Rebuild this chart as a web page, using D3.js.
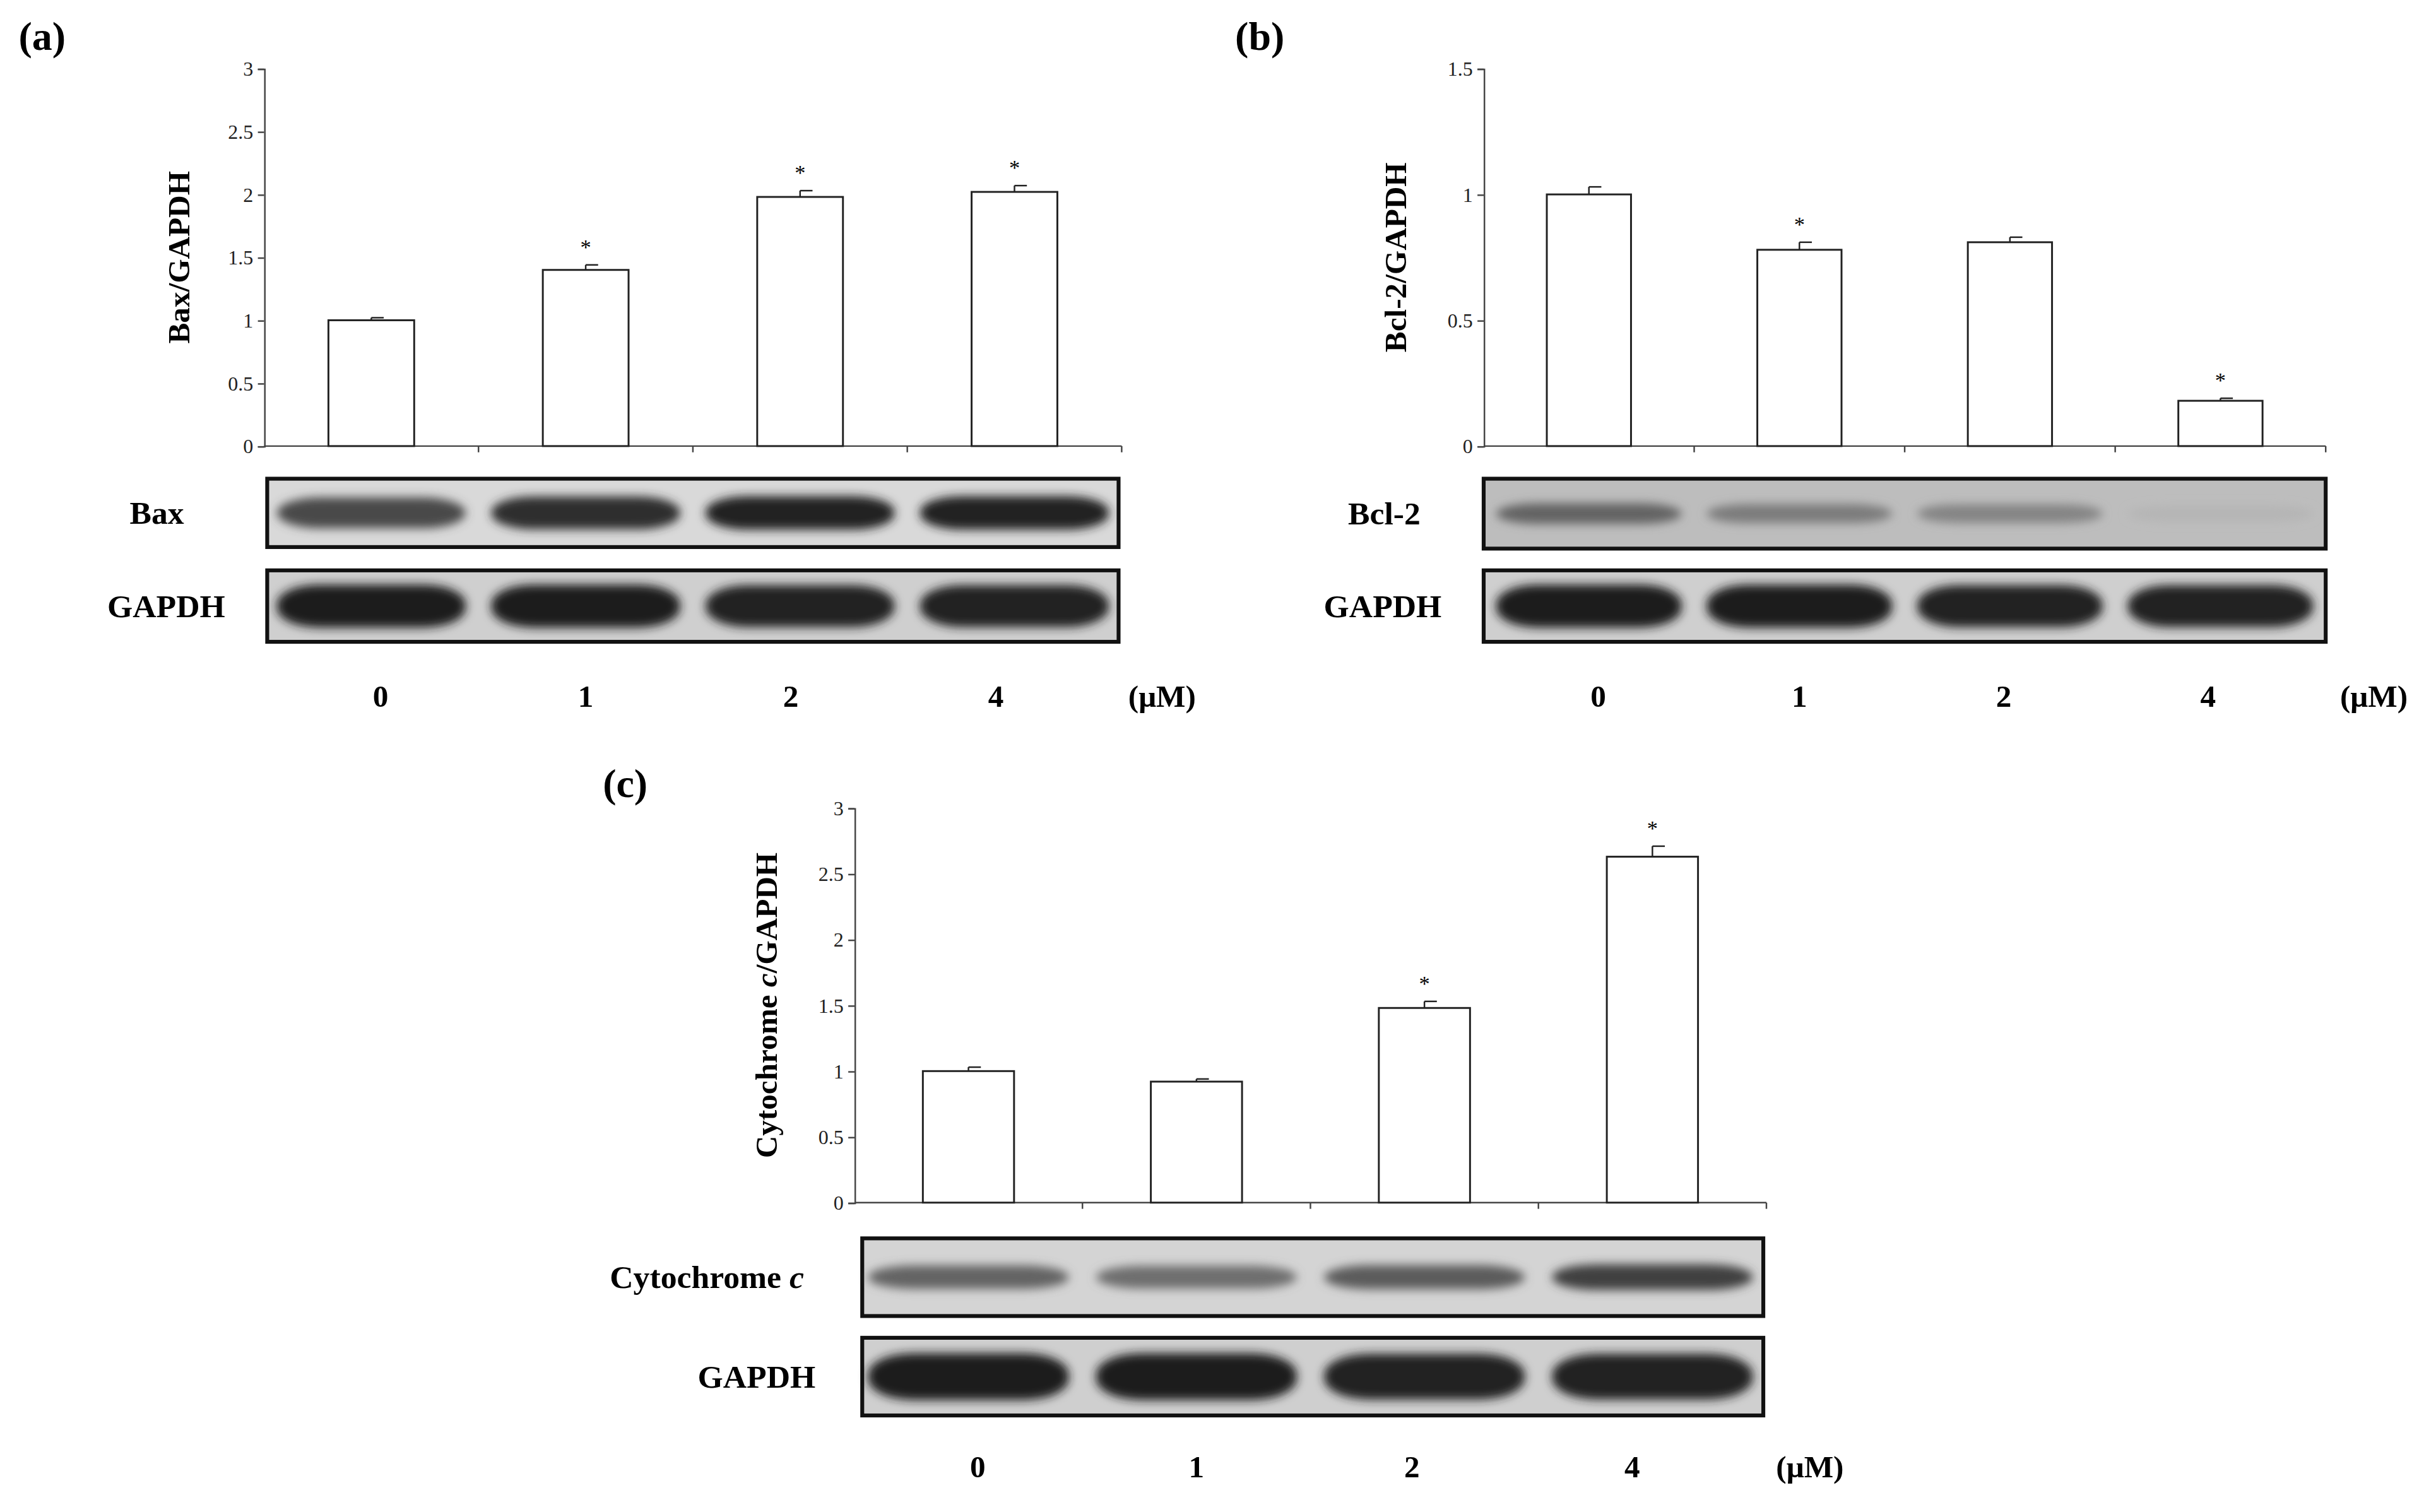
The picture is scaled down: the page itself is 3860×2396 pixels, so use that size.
<!DOCTYPE html>
<html><head><meta charset="utf-8">
<script src="https://cdn.jsdelivr.net/npm/d3@7"></script>
<style>body{margin:0;background:#fff}</style></head>
<body><svg id="c" width="3860" height="2396" viewBox="0 0 1568 973"></svg>
<script>
const doses = ["0","1","2","4"];
const baxVals = [1.0, 1.4, 1.98, 2.02];
const baxErr = [0.02, 0.04, 0.05, 0.05];
const baxSig = [false, true, true, true];
const bclVals = [1.0, 0.78, 0.81, 0.18];
const bclErr = [0.03, 0.03, 0.02, 0.01];
const bclSig = [false, true, false, true];
const cytVals = [1.0, 0.92, 1.48, 2.63];
const cytErr = [0.03, 0.02, 0.05, 0.08];
const cytSig = [false, false, true, true];
const baxTicks = [0, 0.5, 1, 1.5, 2, 2.5, 3];
const bclTicks = [0, 0.5, 1, 1.5];
const cytTicks = [0, 0.5, 1, 1.5, 2, 2.5, 3];
// band intensities (0-1)
const baxBand = [0.75, 0.9, 0.95, 0.95];
const bclBand = [0.55, 0.4, 0.35, 0.05];
const cytBand = [0.6, 0.55, 0.65, 0.8];
const gapA = [1, 1, 0.95, 0.95];
const gapB = [1, 1, 0.95, 0.95];
const gapC = [1, 1, 0.95, 0.95];

const svg = d3.select("#c");
const defs = svg.append("defs");
defs.append("filter").attr("id","bl").attr("x","-30%").attr("y","-100%").attr("width","160%").attr("height","300%")
  .append("feGaussianBlur").attr("stdDeviation","3");
const font = "Liberation Serif, Times New Roman, serif";

function panel(o){
  const g = svg.append("g");
  const y = d3.scaleLinear().domain([0,o.max]).range([o.y0,o.y1]);
  const x = d3.scaleBand().domain(doses).range([o.ax, o.ax2]).paddingInner(0.6).paddingOuter(0.3);
  const ya = g.append("g").attr("transform",`translate(${o.ax},0)`)
    .call(d3.axisLeft(y).tickValues(o.ticks).tickSize(4).tickFormat(d=>d));
  ya.selectAll("text").attr("font-family",font).attr("font-size",13).attr("fill","#222");
  ya.select(".domain").attr("stroke","#444");
  ya.selectAll(".tick line").attr("stroke","#444");
  g.append("line").attr("x1",o.ax).attr("x2",o.ax2).attr("y1",o.y0).attr("y2",o.y0).attr("stroke","#444");
  const step = x.step();
  doses.forEach((d,i)=>{ const tx = x(d)+x.bandwidth()/2+step/2;
    g.append("line").attr("x1",tx).attr("x2",tx).attr("y1",o.y0).attr("y2",o.y0+4).attr("stroke","#444");});
  g.append("text").attr("transform",`translate(${o.ax-o.labOff},${(o.y0+o.y1)/2}) rotate(-90)`)
    .attr("text-anchor","middle").attr("font-family",font).attr("font-weight","bold").attr("font-size",20).html(o.ylab);
  o.vals.forEach((v,i)=>{
    const cx = x(doses[i]);
    g.append("rect").attr("x",cx).attr("width",x.bandwidth()).attr("y",y(v)).attr("height",o.y0-y(v))
      .attr("fill","#fff").attr("stroke","#222").attr("stroke-width",1.2);
    const mx = cx + x.bandwidth()/2, top=y(v+o.err[i]);
    g.append("line").attr("x1",mx).attr("x2",mx).attr("y1",y(v)).attr("y2",top).attr("stroke","#222");
    g.append("line").attr("x1",mx).attr("x2",mx+8).attr("y1",top).attr("y2",top).attr("stroke","#222");
    if(o.sig[i]) g.append("text").attr("x",mx).attr("y",top-7).attr("text-anchor","middle")
      .attr("font-family",font).attr("font-size",14).text("*");
  });
  g.append("text").attr("x",o.lx).attr("y",o.ly).attr("font-family",font).attr("font-weight","bold").attr("font-size",26).text(o.letter);
  o.blots.forEach((b,k)=>{
    g.append("rect").attr("x",o.bx).attr("y",b.y).attr("width",o.bx2-o.bx).attr("height",b.h).attr("fill",b.bg)
      .attr("stroke","#111").attr("stroke-width",2.5);
    const bg = g.append("g").attr("filter","url(#bl)");
    b.vals.forEach((v,i)=>{
      const mx = x(doses[i])+x.bandwidth()/2;
      bg.append("rect").attr("x",mx-step*0.44).attr("width",step*0.88)
        .attr("y",b.y+b.h*b.cy-b.h*b.ry*(0.6+0.4*v)).attr("height",2*b.h*b.ry*(0.6+0.4*v))
        .attr("rx",step*0.2).attr("ry",b.h*b.ry*0.9)
        .attr("fill",d3.interpolateRgb(b.bg,"#1a1a1a")(v));
    });
    g.append("text").attr("x",b.lx).attr("y",b.y+b.h/2+7).attr("text-anchor",b.anchor||"middle").attr("font-family",font)
      .attr("font-weight","bold").attr("font-size",21).html(b.label);
  });
  doses.forEach((d,i)=>{
    g.append("text").attr("x",x(d)+x.bandwidth()/2+o.lshift[i]).attr("y",o.dy).attr("text-anchor","middle")
      .attr("font-family",font).attr("font-weight","bold").attr("font-size",20).text(d);
  });
  g.append("text").attr("x",o.mux).attr("y",o.dy).attr("text-anchor","middle").attr("font-family",font)
    .attr("font-weight","bold").attr("font-size",20).text("(μM)");
}
panel({max:3,ticks:baxTicks,y0:287,y1:44,ax:170,ax2:722,vals:baxVals,err:baxErr,sig:baxSig,labOff:48,
  ylab:"Bax/GAPDH",letter:"(a)",lx:12,ly:32,bx:172,bx2:720,
  blots:[{y:308,h:44,bg:"#d9d9d9",vals:baxBand,label:"Bax",cy:0.5,ry:0.25,lx:101},{y:367,h:46,bg:"#cfcfcf",vals:gapA,label:"GAPDH",cy:0.5,ry:0.3,lx:107}],
  lshift:[6,0,-6,-12],dy:455,mux:748});
panel({max:1.5,ticks:bclTicks,y0:287,y1:44,ax:955,ax2:1497,vals:bclVals,err:bclErr,sig:bclSig,labOff:50,
  ylab:"Bcl-2/GAPDH",letter:"(b)",lx:795,ly:32,bx:955,bx2:1497,
  blots:[{y:308,h:45,bg:"#bdbdbd",vals:bclBand,label:"Bcl-2",cy:0.5,ry:0.18,lx:891},{y:367,h:46,bg:"#cfcfcf",vals:gapB,label:"GAPDH",cy:0.5,ry:0.3,lx:890}],
  lshift:[6,0,-4,-8],dy:455,mux:1528});
panel({max:3,ticks:cytTicks,y0:774,y1:520,ax:550,ax2:1137,vals:cytVals,err:cytErr,sig:cytSig,labOff:50,
  ylab:"Cytochrome <tspan font-style='italic'>c</tspan>/GAPDH",letter:"(c)",lx:388,ly:513,bx:555,bx2:1135,
  blots:[{y:797,h:50,bg:"#d4d4d4",vals:cytBand,label:"Cytochrome <tspan font-style='italic'>c</tspan>",cy:0.5,ry:0.18,lx:455},{y:861,h:50,bg:"#cfcfcf",vals:gapC,label:"GAPDH",cy:0.5,ry:0.3,lx:487}],
  lshift:[6,0,-8,-13],dy:951,mux:1165});
</script></body></html>
